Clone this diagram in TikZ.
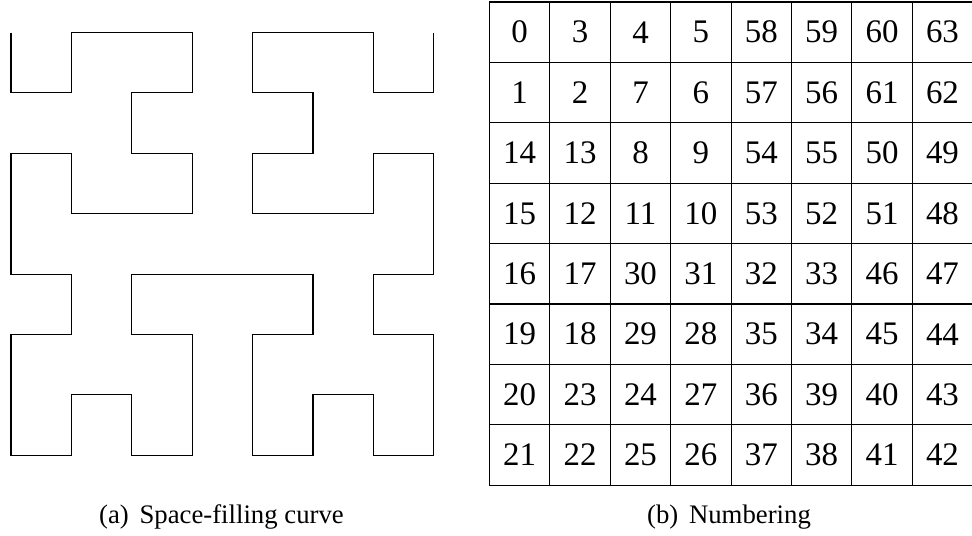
\documentclass[tikz,border=0pt]{standalone}
\usepackage{fontspec}
\setmainfont{Liberation Serif}
\usetikzlibrary{positioning}
\tikzset{
  curve/.style={line width=0.5pt, line join=miter},
  gridline/.style={line width=0.5pt},
  cellnum/.style={inner sep=0pt, font=\fontsize{15.5}{18}\selectfont},
  subcap/.style={anchor=base, inner sep=0pt, font=\fontsize{12.6}{15}\selectfont}
}

\begin{document}
\begin{tikzpicture}
  \useasboundingbox (0,0) rectangle (16.093,-8.874);

  % (a) the curve through the cell centres
  \begin{scope}[shift={(0.182,-0.538)}, yscale=-1]
    \draw[curve] (0,0) -- (0,1) -- (1,1) -- (1,0) -- (3,0) -- (3,1) -- (2,1)
      -- (2,2) -- (3,2) -- (3,3) -- (1,3) -- (1,2) -- (0,2) -- (0,4) -- (1,4)
      -- (1,5) -- (0,5) -- (0,7) -- (1,7) -- (1,6) -- (2,6) -- (2,7) -- (3,7)
      -- (3,5) -- (2,5) -- (2,4) -- (5,4) -- (5,5) -- (4,5) -- (4,7) -- (5,7)
      -- (5,6) -- (6,6) -- (6,7) -- (7,7) -- (7,5) -- (6,5) -- (6,4) -- (7,4)
      -- (7,2) -- (6,2) -- (6,3) -- (4,3) -- (4,2) -- (5,2) -- (5,1) -- (4,1)
      -- (4,0) -- (6,0) -- (6,1) -- (7,1) -- (7,0);
  \end{scope}

  % (b) the numbered grid
  \begin{scope}[shift={(8.104,-8.033)}]
    \draw[gridline] (0,0) grid (8,8);
    \foreach \row [count=\r from 0] in {
        {0,3,4,5,58,59,60,63},
        {1,2,7,6,57,56,61,62},
        {14,13,8,9,54,55,50,49},
        {15,12,11,10,53,52,51,48},
        {16,17,30,31,32,33,46,47},
        {19,18,29,28,35,34,45,44},
        {20,23,24,27,36,39,40,43},
        {21,22,25,26,37,38,41,42}} {
      \foreach \num [count=\c from 0] in \row
        \node[cellnum] (cell-\r-\c) at (\c+0.5,7.5-\r) {\num};
    }
  \end{scope}

  % captions
  \node[subcap] (capA) at (3.667,-8.675) {(a)\hspace{0.4em}Space-filling curve};
  \node[subcap] (capB) at (12.07,-8.675) {(b)\hspace{0.4em}Numbering};
\end{tikzpicture}
\end{document}
